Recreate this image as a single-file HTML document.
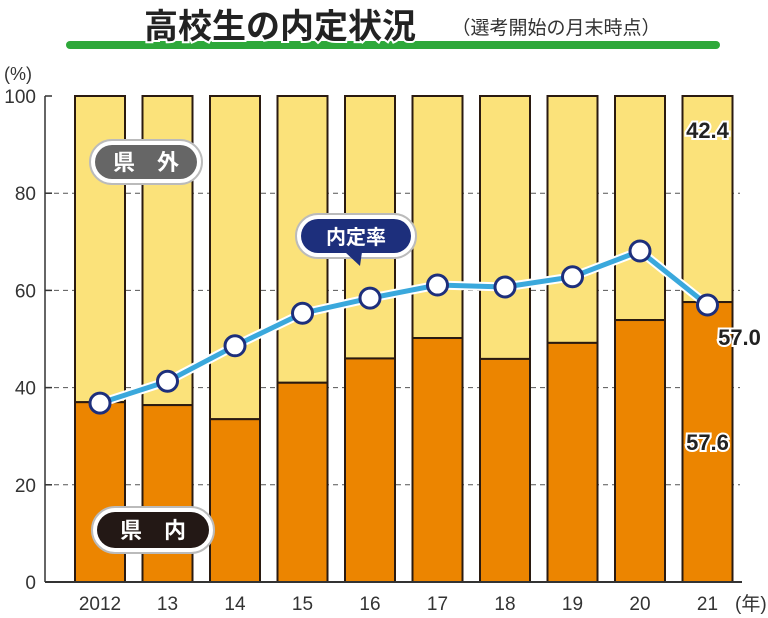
<!DOCTYPE html>
<html><head><meta charset="utf-8"><style>
body{margin:0;background:#fff;width:768px;height:618px;overflow:hidden}
svg{display:block}
text{font-family:"Liberation Sans","Noto Sans CJK JP",sans-serif}
</style></head><body>
<svg id="c" width="768" height="618" viewBox="0 0 768 618">
<text x="280" y="38" font-size="34" font-weight="bold" fill="#222" text-anchor="middle" stroke="#fff" stroke-width="4" paint-order="stroke">高校生の内定状況</text>
<rect x="66" y="41" width="654" height="8" rx="4" fill="#2ea83a"/>
<text x="280" y="38" font-size="34" font-weight="bold" fill="#222" text-anchor="middle" stroke="#fff" stroke-width="4" paint-order="stroke">高校生の内定状況</text>
<text x="556" y="34" font-size="19" fill="#333" text-anchor="middle">（選考開始の月末時点）</text>
<text x="4" y="80" font-size="18" fill="#333">(%)</text>
<g id="grid"></g><g id="bars"></g><g id="axes"></g><g id="line"></g><g id="labels"></g>
<g>
<rect x="90" y="140" width="112" height="44" rx="22" fill="#fff" stroke="#bbb" stroke-width="2"/>
<rect x="95" y="145" width="102" height="34" rx="17" fill="#666"/>
<text x="146" y="170" font-size="22" font-weight="bold" fill="#fff" text-anchor="middle">県　外</text>
</g>
<g>
<rect x="92" y="507" width="122" height="46" rx="23" fill="#fff" stroke="#bbb" stroke-width="2"/>
<rect x="97" y="512" width="112" height="36" rx="18" fill="#231815"/>
<text x="153" y="538" font-size="22" font-weight="bold" fill="#fff" text-anchor="middle">県　内</text>
</g>
<g>
<rect x="296" y="214" width="120" height="44" rx="22" fill="#fff" stroke="#bbb" stroke-width="2"/>
<rect x="301" y="219" width="110" height="34" rx="17" fill="#1d2f7c"/>
<polygon points="345,252 362,252 360,266" fill="#1d2f7c"/>
<text x="356" y="244" font-size="20" font-weight="bold" fill="#fff" text-anchor="middle">内定率</text>
</g>
</svg>
<script>
const years=["2012","13","14","15","16","17","18","19","20","21"];
const inside=[37.0,36.4,33.5,41.0,46.0,50.2,45.9,49.2,53.9,57.6];
const rate=[36.8,41.3,48.6,55.3,58.4,61.1,60.7,62.8,68.1,57.0];
const yTicks=[0,20,40,60,80,100];
const NS="http://www.w3.org/2000/svg";
const y=v=>582-v*4.86;
const xc=i=>100+i*67.5;
const BW=50;
function mk(tag,attrs,parent,txt){const e=document.createElementNS(NS,tag);for(const k in attrs)e.setAttribute(k,attrs[k]);if(txt!==undefined)e.textContent=txt;document.getElementById(parent).appendChild(e);return e;}
yTicks.forEach(t=>{
 if(t>0&&t<100){const g=mk('line',{x1:45,x2:740,y1:y(t),y2:y(t),stroke:'#555','stroke-width':1,'stroke-dasharray':'5,4'},'grid');
 
 }
 const l=mk('text',{x:36,y:y(t)+7,'font-size':19,fill:'#333','text-anchor':'end'},'axes',String(t));
 
 
 const tk=mk('line',{x1:45,x2:52,y1:y(t),y2:y(t),stroke:'#333','stroke-width':1.5},'axes');
 
 
});
const ya=mk('line',{x1:45,x2:45,y1:y(100),y2:582,stroke:'#333','stroke-width':1.5},'axes');


years.forEach((yr,i)=>{
 const x0=xc(i)-BW/2;
 const top=mk('rect',{x:x0,y:y(100),width:BW,height:y(inside[i])-y(100),fill:'#fbe27a',stroke:'#2a1a10','stroke-width':2},'bars');
 
 
 const b=mk('rect',{x:x0,y:y(inside[i]),width:BW,height:582-y(inside[i]),fill:'#ec8500',stroke:'#2a1a10','stroke-width':2},'bars');
 
 
 const t=mk('text',{x:xc(i),y:610,'font-size':19,fill:'#333','text-anchor':'middle'},'axes',yr);
 
 
});
const xa=mk('line',{x1:45,x2:742,y1:582,y2:582,stroke:'#333','stroke-width':2},'axes');


const un=mk('text',{x:735,y:610,'font-size':19,fill:'#333'},'axes','(年)');


const pts=rate.map((v,i)=>xc(i)+','+y(v)).join(' ');
const pl1=mk('polyline',{points:pts,fill:'none',stroke:'#fff','stroke-width':9},'line');


const pl=mk('polyline',{points:pts,fill:'none',stroke:'#3aa8dc','stroke-width':5},'line');


rate.forEach((v,i)=>{
 const c=mk('circle',{cx:xc(i),cy:y(v),r:10,fill:'#fff',stroke:'#1d2f7c','stroke-width':3},'line');
 
 
});
const last=years.length-1;
const L=[[xc(last),y(100-inside[last])/1+0, (100-inside[last]).toFixed(1),'label-outside-21'],[xc(last),y(inside[last]/2)+8,inside[last].toFixed(1),'label-inside-21'],[xc(last)+32,y(rate[last])+40,rate[last].toFixed(1),'label-rate-21']];
L[0][1]=y(100)+42;
L.forEach(a=>{
 const t=mk('text',{x:a[0],y:a[1],'font-size':22,'font-weight':'bold',fill:'#222','text-anchor':'middle',stroke:'#fff','stroke-width':4,'paint-order':'stroke'},'labels',a[2]);
 
 
});
</script>
</body></html>
